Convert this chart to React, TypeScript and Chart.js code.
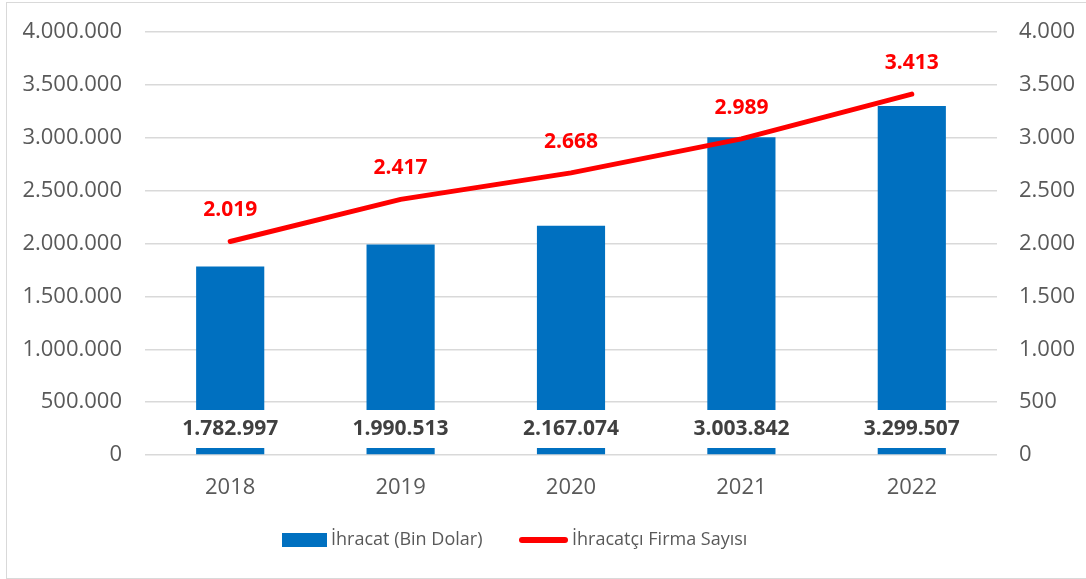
import React, { useEffect, useRef } from "react";
import { Chart, registerables } from "chart.js";

Chart.register(...registerables);

const years = ["2018", "2019", "2020", "2021", "2022"];
const exportValues = [1782997, 1990513, 2167074, 3003842, 3299507];
const firmCounts = [2019, 2417, 2668, 2989, 3413];
const exportLabel = "İhracat (Bin Dolar)";
const firmLabel = "İhracatçı Firma Sayısı";

const BLUE = "#0070C0";
const RED = "#FF0000";
const TEXT = "#595959";
const FONT = '"Open Sans", "DejaVu Sans", sans-serif';

const fmt = (n: number) => String(Math.round(n)).replace(/\B(?=(\d{3})+(?!\d))/g, ".");

const labelPlugin = {
  id: "customLabels",
  afterDatasetsDraw(chart: any) {
    const ctx = chart.ctx;
    const yScale = chart.scales.y;
    const base = yScale.getPixelForValue(0);
    ctx.save();
    ctx.font = `bold 21px ${FONT}`;
    ctx.textAlign = "center";
    ctx.textBaseline = "middle";
    const barMeta = chart.getDatasetMeta(0);
    barMeta.data.forEach((el: any, i: number) => {
      const text = fmt(exportValues[i]);
      const w = ctx.measureText(text).width + 14;
      ctx.fillStyle = "#ffffff";
      ctx.fillRect(el.x - w / 2, base - 45, w, 38);
      ctx.fillStyle = "#404040";
      ctx.fillText(text, el.x, base - 26);
    });
    const lineMeta = chart.getDatasetMeta(1);
    ctx.fillStyle = RED;
    lineMeta.data.forEach((el: any, i: number) => {
      ctx.fillText(fmt(firmCounts[i]), el.x, el.y - 31);
    });
    ctx.restore();
  },
  afterDraw(chart: any) {
    const ctx = chart.ctx;
    ctx.save();
    const cy = 540;
    ctx.fillStyle = BLUE;
    ctx.fillRect(282, cy - 7, 45, 14);
    ctx.font = `18px ${FONT}`;
    ctx.fillStyle = TEXT;
    ctx.textAlign = "left";
    ctx.textBaseline = "middle";
    ctx.fillText(exportLabel, 331, cy);
    ctx.strokeStyle = RED;
    ctx.lineWidth = 6;
    ctx.lineCap = "round";
    ctx.beginPath();
    ctx.moveTo(522, cy);
    ctx.lineTo(565, cy);
    ctx.stroke();
    ctx.fillText(firmLabel, 572, cy);
    ctx.restore();
  },
};

export default function App() {
  const canvasRef = useRef<HTMLCanvasElement>(null);

  useEffect(() => {
    if (!canvasRef.current) return;
    const chart = new Chart(canvasRef.current, {
      type: "bar",
      data: {
        labels: years,
        datasets: [
          {
            type: "bar",
            label: exportLabel,
            data: exportValues,
            backgroundColor: BLUE,
            yAxisID: "y",
            barPercentage: 0.4,
            categoryPercentage: 1,
            order: 2,
          },
          {
            type: "line",
            label: firmLabel,
            data: firmCounts,
            borderColor: RED,
            backgroundColor: RED,
            borderWidth: 5,
            pointRadius: 0,
            borderCapStyle: "round",
            tension: 0,
            yAxisID: "y1",
            order: 1,
          },
        ],
      } as any,
      options: {
        animation: false,
        responsive: false,
        maintainAspectRatio: false,
        layout: { padding: { left: 0, right: 0, top: 32, bottom: 74 } },
        plugins: {
          legend: { display: false },
          tooltip: { enabled: false },
        },
        scales: {
          x: {
            grid: { display: false },
            border: { display: false },
            ticks: { color: TEXT, font: { family: FONT, size: 22 }, padding: 12 },
            afterFit: (s: any) => {
              s.height = 50;
              s.paddingLeft = 0;
              s.paddingRight = 0;
            },
          },
          y: {
            position: "left",
            min: 0,
            max: 4000000,
            ticks: {
              stepSize: 500000,
              color: TEXT,
              padding: 23,
              font: { family: FONT, size: 22 },
              callback: (v: any) => fmt(Number(v)),
            },
            grid: { color: "#d9d9d9", lineWidth: 1.5, drawTicks: false },
            border: { display: false },
            afterFit: (s: any) => {
              s.width = 145;
              s.paddingTop = 0;
              s.paddingBottom = 0;
            },
          },
          y1: {
            position: "right",
            min: 0,
            max: 4000,
            ticks: {
              stepSize: 500,
              color: TEXT,
              padding: 22,
              font: { family: FONT, size: 22 },
              callback: (v: any) => fmt(Number(v)),
            },
            grid: { drawOnChartArea: false, drawTicks: false },
            border: { display: false },
            afterFit: (s: any) => {
              s.width = 89;
              s.paddingTop = 0;
              s.paddingBottom = 0;
            },
          },
        },
      } as any,
      plugins: [labelPlugin],
    });
    return () => chart.destroy();
  }, []);

  return (
    <div style={{ position: "fixed", left: 0, top: 0, width: 1086, height: 579, background: "#fff" }}>
      <canvas ref={canvasRef} width={1086} height={579} style={{ display: "block" }} />
      <div
        style={{
          position: "absolute",
          left: 6,
          top: 2,
          width: 1090,
          height: 577,
          border: "1px solid #d9d9d9",
          boxSizing: "border-box",
          pointerEvents: "none",
        }}
      />
    </div>
  );
}
